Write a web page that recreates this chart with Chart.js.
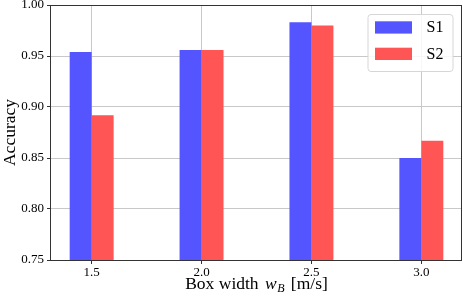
<!DOCTYPE html>
<html>
<head>
<meta charset="utf-8">
<script src="https://cdn.jsdelivr.net/npm/chart.js@4"></script>
<style>
  html, body { margin: 0; padding: 0; background: #fff; }
  #wrap { width: 463px; height: 296px; }
</style>
</head>
<body>
<div id="wrap"><canvas id="acc-chart"></canvas></div>
<script>
// box widths (x categories)
const boxWidths = [1.5, 2.0, 2.5, 3.0];
// accuracy per scenario
const s1Values = [0.954, 0.956, 0.983, 0.850];
const s2Values = [0.892, 0.956, 0.980, 0.867];
// axis ticks
const xTicks = [1.5, 2.0, 2.5, 3.0];
const yTicks = [0.75, 0.80, 0.85, 0.90, 0.95, 1.00];

const SERIF = "'Liberation Serif', 'DejaVu Serif', serif";

// frame, x title with math-ish w_B, and legend box inside the plot
const extras = {
  id: "extras",
  afterDraw(chart) {
    const ctx = chart.ctx;
    const a = chart.chartArea;
    ctx.save();

    // frame
    ctx.strokeStyle = "#333";
    ctx.lineWidth = 1;
    ctx.strokeRect(a.left - 0.5, a.top + 0.5, a.right - a.left, a.bottom - a.top);

    // x axis title: "Box width w_B [m/s]"
    const parts = [
      { t: "Box width ", f: "17.5px " + SERIF, dy: 0, gap: 2 },
      { t: "w", f: "italic 17.5px " + SERIF, dy: 0, gap: 0.5 },
      { t: "B", f: "italic 12px " + SERIF, dy: 3, gap: 2 },
      { t: " [m/s]", f: "17.5px " + SERIF, dy: 0, gap: 0 },
    ];
    let total = 0;
    parts.forEach(p => { ctx.font = p.f; p.w = ctx.measureText(p.t).width + p.gap; total += p.w; });
    let x = (a.left + a.right) / 2 - total / 2;
    const base = a.bottom + 29;
    ctx.fillStyle = "#000";
    ctx.textBaseline = "alphabetic";
    ctx.textAlign = "left";
    parts.forEach(p => { ctx.font = p.f; ctx.fillText(p.t, x, base + p.dy); x += p.w; });

    // legend
    const bx = a.right - 94.5, by = a.top + 9, bw = 85, bh = 57;
    ctx.beginPath();
    ctx.roundRect(bx + 0.5, by + 0.5, bw, bh, 3);
    ctx.fillStyle = "rgba(255,255,255,0.85)";
    ctx.fill();
    ctx.strokeStyle = "#d6d6d6";
    ctx.stroke();
    ctx.font = "16px " + SERIF;
    ctx.textBaseline = "middle";
    chart.data.datasets.forEach((ds, i) => {
      const sy = by + 7.3 + i * 26.4;
      ctx.fillStyle = ds.backgroundColor;
      ctx.fillRect(bx + 7.5, sy, 37, 12.3);
      ctx.fillStyle = "#000";
      ctx.fillText(ds.label, bx + 59, sy + 6.6);
    });
    ctx.restore();
  },
};

new Chart(document.getElementById("acc-chart"), {
  type: "bar",
  data: {
    labels: boxWidths,
    datasets: [
      { label: "S1", data: s1Values, backgroundColor: "rgb(85,85,255)", borderWidth: 0 },
      { label: "S2", data: s2Values, backgroundColor: "rgb(255,85,85)", borderWidth: 0 },
    ],
  },
  options: {
    responsive: true,
    maintainAspectRatio: false,
    animation: false,
    categoryPercentage: 0.4,
    barPercentage: 1.0,
    layout: { padding: { top: 5, right: 1, left: 0, bottom: 0 } },
    plugins: {
      legend: { display: false },
      tooltip: { enabled: false },
    },
    scales: {
      x: {
        type: "linear",
        min: 1.315,
        max: 3.185,
        offset: false,
        z: 1,
        grid: { offset: false, color: "#c8c8c8", tickColor: "#333", tickLength: 4 },
        border: { display: false },
        ticks: {
          padding: 1,
          color: "#000",
          font: { family: SERIF, size: 13 },
          callback: v => Number(v).toFixed(1),
        },
        afterBuildTicks: s => { s.ticks = xTicks.map(v => ({ value: v })); },
        afterFit: s => { s.height = 36; s.paddingLeft = 0; s.paddingRight = 0; },
      },
      y: {
        min: 0.75,
        max: 1.0,
        z: 1,
        grid: { color: "#c8c8c8", tickColor: "#333", tickLength: 4 },
        border: { display: false },
        ticks: {
          padding: 3,
          color: "#000",
          font: { family: SERIF, size: 13 },
          callback: v => Number(v).toFixed(2),
        },
        afterBuildTicks: s => { s.ticks = yTicks.map(v => ({ value: v })); },
        title: {
          display: true,
          text: "Accuracy",
          color: "#000",
          padding: { top: 0, bottom: 0 },
          font: { family: SERIF, size: 17.5 },
        },
        afterFit: s => { s.width = 51; s.paddingTop = 0; s.paddingBottom = 0; },
      },
    },
  },
  plugins: [extras],
});
</script>
</body>
</html>
